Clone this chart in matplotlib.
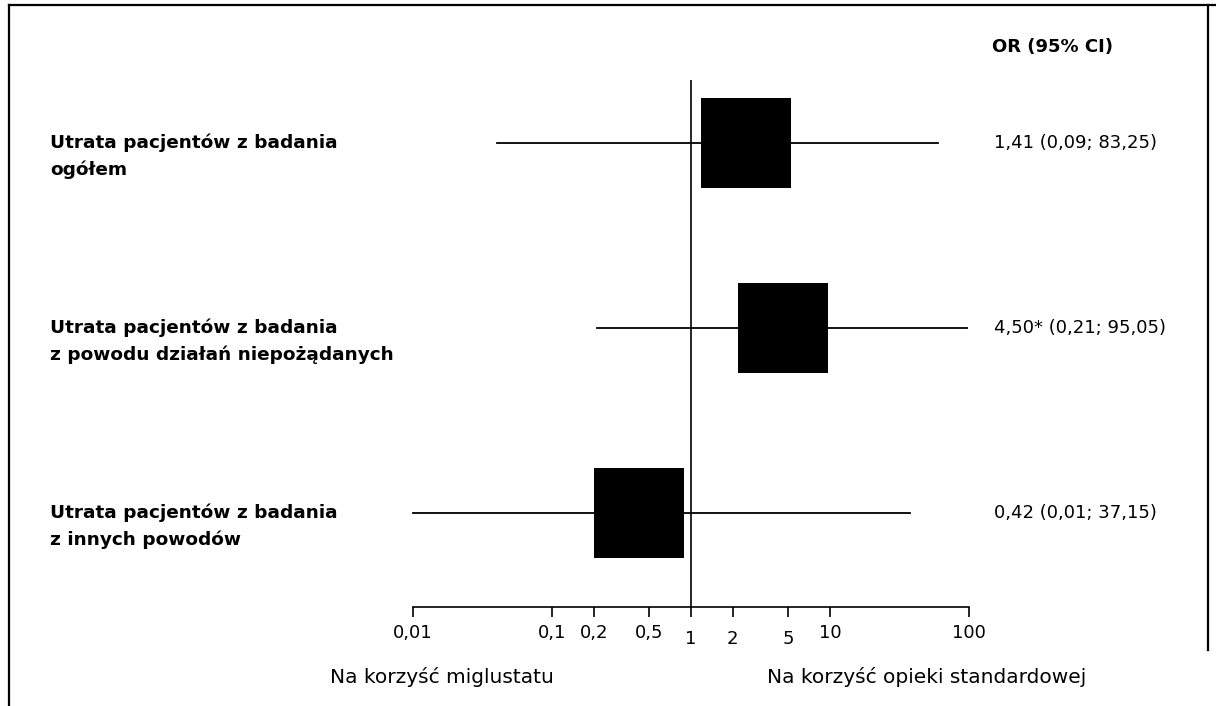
import matplotlib
matplotlib.use("Agg")
import matplotlib.pyplot as plt
import matplotlib.transforms as mtransforms
from matplotlib.lines import Line2D

# ---- data ----
categories = [
    "Utrata pacjentów z badania\nogółem",
    "Utrata pacjentów z badania\nz powodu działań niepożądanych",
    "Utrata pacjentów z badania\nz innych powodów",
]
or_text = ["1,41 (0,09; 83,25)", "4,50* (0,21; 95,05)", "0,42 (0,01; 37,15)"]
# positions of marks as drawn in the picture
est_plot = [2.49, 4.59, 0.426]
low_plot = [0.040, 0.21, 0.01]
high_plot = [60.0, 96.8, 37.6]
tick_vals = [0.01, 0.1, 0.2, 0.5, 1, 2, 5, 10, 100]
tick_labels = ["0,01", "0,1", "0,2", "0,5", "1", "2", "5", "10", "100"]
header = "OR (95% CI)"
left_note = "Na korzyść miglustatu"
right_note = "Na korzyść opieki standardowej"

W, H = 1216, 706
fig = plt.figure(figsize=(W / 100, H / 100), dpi=100)
plt.rcParams['font.family'] = ['DejaVu Sans']

ax = fig.add_axes([413 / W, (H - 607) / H, (969 - 413) / W, (607 - 80) / H])
ax.set_xscale('log')
ax.set_xlim(0.01, 100)
ax.set_ylim(0.492, 3.34)
for s in ['top', 'left', 'right']:
    ax.spines[s].set_visible(False)
ax.spines['bottom'].set_linewidth(1.2)
ax.set_yticks([])
ax.set_xticks(tick_vals)
ax.set_xticklabels(tick_labels)
ax.xaxis.set_minor_locator(matplotlib.ticker.NullLocator())
ax.tick_params(axis='x', direction='out', length=7, width=1.2, labelsize=13, pad=5)
for lab, v in zip(ax.get_xticklabels(), tick_vals):
    if v in (1, 2, 5):
        lab.set_transform(lab.get_transform() +
                          mtransforms.ScaledTranslation(0, -0.06, fig.dpi_scale_trans))

ax.axvline(1, color='black', lw=1.2, zorder=1)

ys = [3, 2, 1]
for y, e, lo, hi in zip(ys, est_plot, low_plot, high_plot):
    ax.plot([lo, hi], [y, y], color='black', lw=1.3, zorder=2, clip_on=False)
    ax.plot([e], [y], marker='s', ms=64.8, color='black', mew=0, zorder=3, clip_on=False)

blend = mtransforms.blended_transform_factory(fig.transFigure, ax.transData)
line_gap = 27 / 185
for y, cat, t in zip(ys, categories, or_text):
    lines = cat.split("\n")
    for i, ln in enumerate(lines):
        fig.text(50 / W, y - i * line_gap, ln, transform=blend, ha='left', va='center',
                 fontsize=13.3, fontweight='bold')
    fig.text(994 / W, y, t, transform=blend, ha='left', va='center', fontsize=13)

fig.text(1052 / W, 1 - 47 / H, header, ha='center', va='center', fontsize=13, fontweight='bold')
fig.text(330 / W, 1 - 677 / H, left_note, ha='left', va='center', fontsize=14.5)
fig.text(767 / W, 1 - 677 / H, right_note, ha='left', va='center', fontsize=14.5)

# frame
fig.add_artist(Line2D([9 / W, 9 / W], [0, 1 - 5 / H], transform=fig.transFigure, color='black', lw=1.6))
fig.add_artist(Line2D([9 / W, 1], [1 - 5 / H, 1 - 5 / H], transform=fig.transFigure, color='black', lw=1.6))
fig.add_artist(Line2D([1208 / W, 1208 / W], [1 - 650 / H, 1 - 5 / H], transform=fig.transFigure, color='black', lw=1.6))

fig.savefig("out.png", dpi=100)
